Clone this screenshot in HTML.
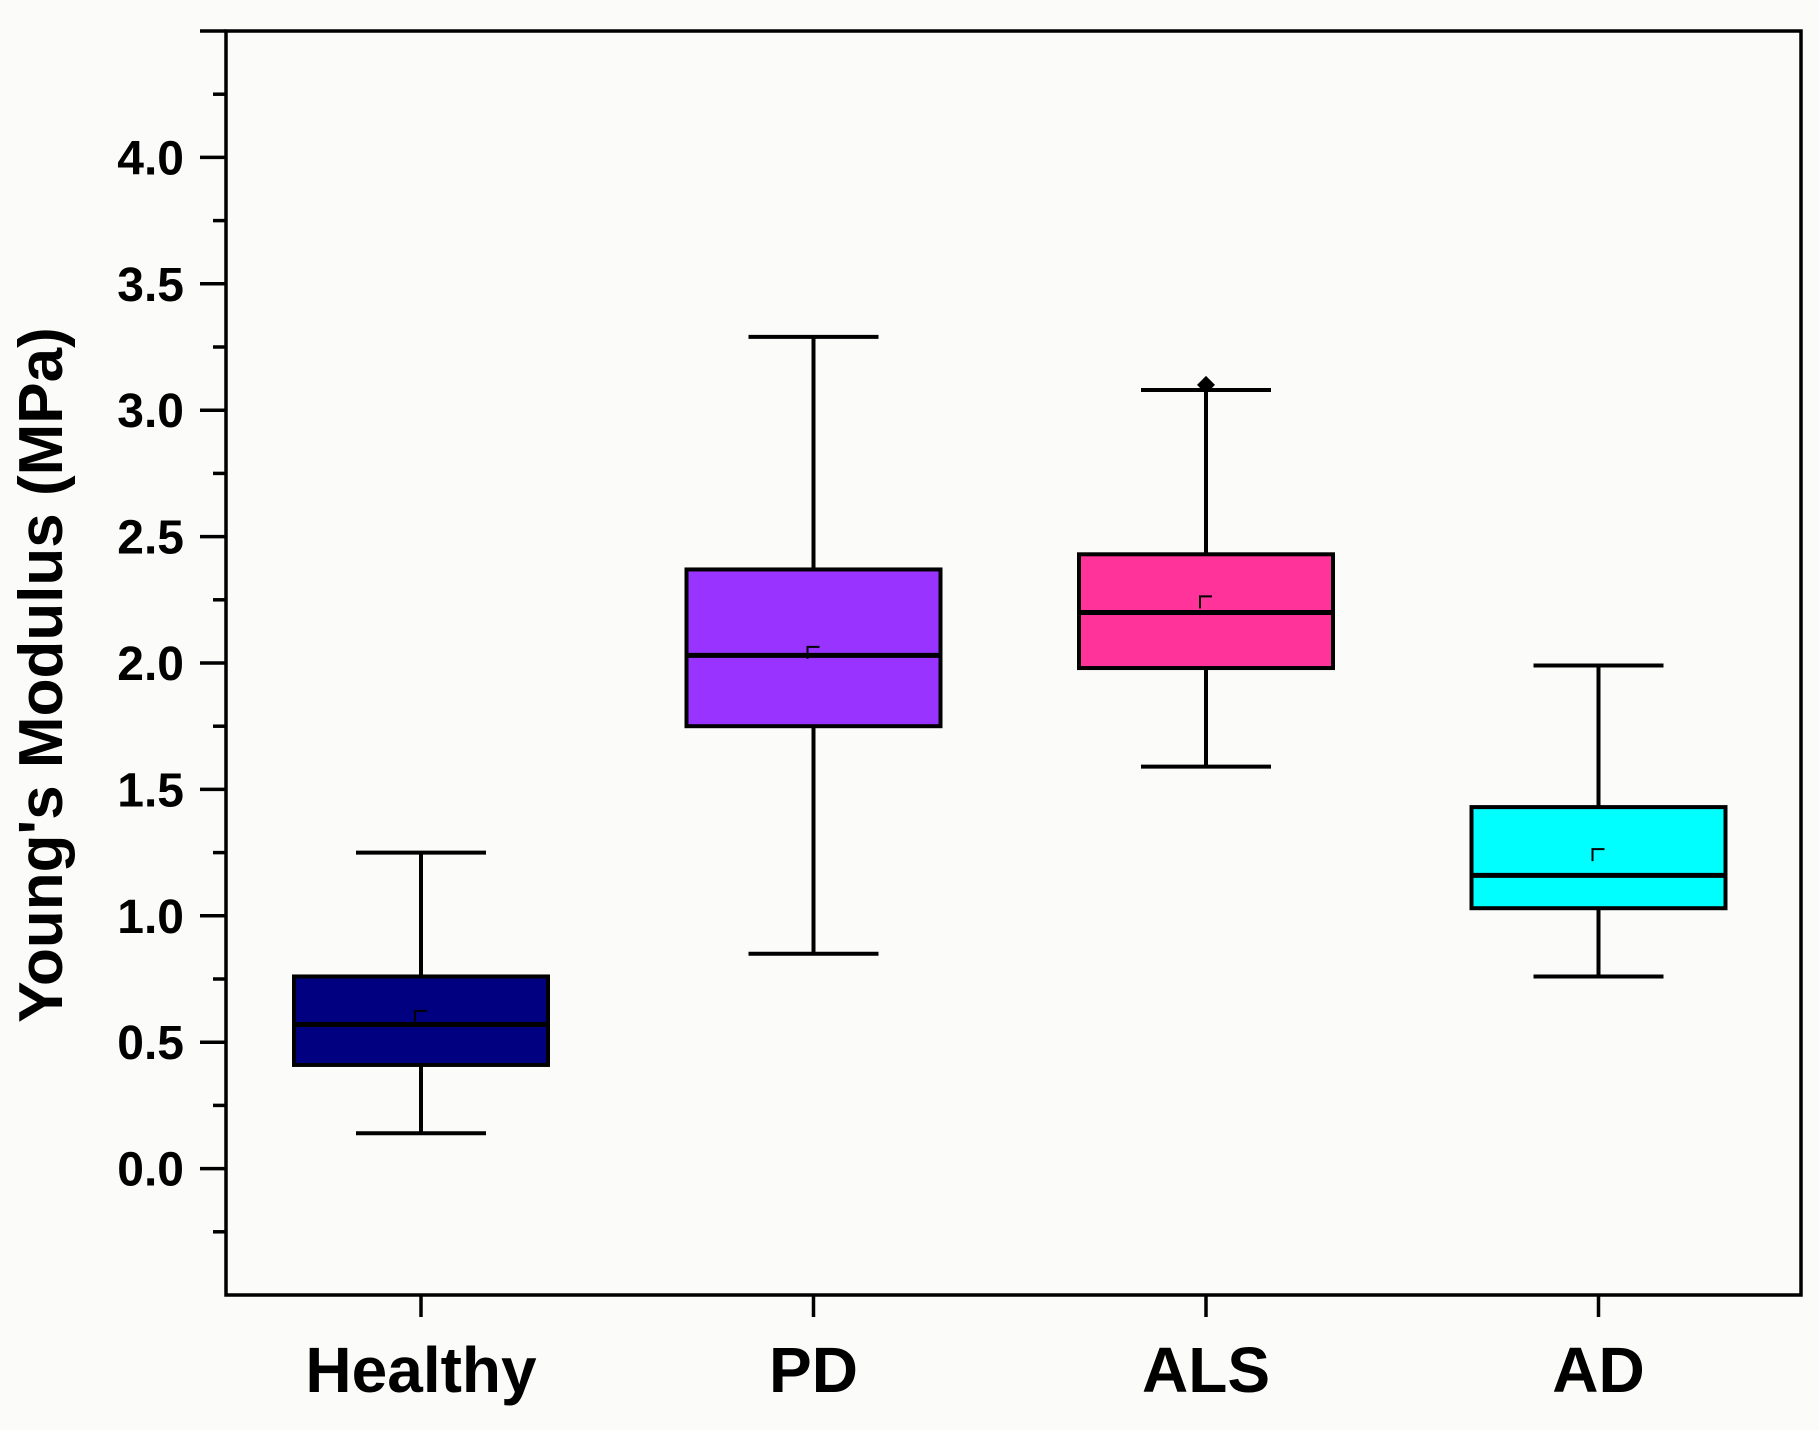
<!DOCTYPE html>
<html><head><meta charset="utf-8"><style>
html,body{margin:0;padding:0;background:#fbfbf9;}
svg{display:block;font-family:"Liberation Sans",Arial,sans-serif;}
</style></head>
<body>
<svg id="chart" width="1819" height="1430" viewBox="0 0 1819 1430" xmlns="http://www.w3.org/2000/svg">
<rect x="0" y="0" width="1819" height="1430" fill="#fbfbf9"/>
<g id="plot"></g>
<text transform="translate(62,675) rotate(-90)" text-anchor="middle" font-weight="bold" font-size="62" fill="#000">Young's Modulus (MPa)</text>
</svg>
<script>
const categories = ["Healthy", "PD", "ALS", "AD"];
const whiskerLow = [0.14, 0.85, 1.59, 0.76];
const q1 = [0.41, 1.75, 1.98, 1.03];
const medians = [0.57, 2.03, 2.20, 1.16];
const means = [0.60, 2.04, 2.24, 1.24];
const q3 = [0.76, 2.37, 2.43, 1.43];
const whiskerHigh = [1.25, 3.29, 3.08, 1.99];
const outliers = [null, null, 3.10, null];
const colors = ["#000080", "#9933ff", "#ff3399", "#00ffff"];
const yTicks = ["0.0", "0.5", "1.0", "1.5", "2.0", "2.5", "3.0", "3.5", "4.0"];

const NS = "http://www.w3.org/2000/svg";
const L = 226, R = 1801, T = 31, B = 1295;
const yMin = -0.5, yMax = 4.5;
function yS(v){ return B - (v - yMin) / (yMax - yMin) * (B - T); }
function xS(i){ return 421 + i * 392.5; }
const g = document.getElementById("plot");
function mk(tag, attrs, parent){
  const e = document.createElementNS(NS, tag);
  for (const k in attrs) e.setAttribute(k, attrs[k]);
  (parent || g).appendChild(e);
  return e;
}
const frame = mk("rect", {x:L, y:T, width:R-L, height:B-T, fill:"none", stroke:"#000", "stroke-width":3.5});


for (let v = -0.25; v <= 4.5; v += 0.25) {
  const major = Math.abs(v*2 - Math.round(v*2)) < 1e-6;
  const t = mk("line", {x1:L - (major ? 26 : 13), x2:L, y1:yS(v), y2:yS(v), stroke:"#000", "stroke-width":3.5});
  
  
}
yTicks.forEach(s => {
  const t = mk("text", {x:L - 42, y:yS(parseFloat(s)) + 17, "text-anchor":"end", "font-size":48, "font-weight":"bold", fill:"#000"});
  t.textContent = s;
  
  
});
categories.forEach((c, i) => {
  const x = xS(i);
  const tk = mk("line", {x1:x, x2:x, y1:B, y2:B+22, stroke:"#000", "stroke-width":3.5});
  
  
  const lb = mk("text", {x:x, y:1392, "text-anchor":"middle", "font-size":64, "font-weight":"bold", fill:"#000"});
  lb.textContent = c;
  
  

  const grp = mk("g", {});
  
  
  const hw = 127, cw = 65;
  mk("line", {x1:x, x2:x, y1:yS(whiskerHigh[i]), y2:yS(q3[i]), stroke:"#000", "stroke-width":4}, grp);
  mk("line", {x1:x, x2:x, y1:yS(q1[i]), y2:yS(whiskerLow[i]), stroke:"#000", "stroke-width":4}, grp);
  mk("line", {x1:x-cw, x2:x+cw, y1:yS(whiskerHigh[i]), y2:yS(whiskerHigh[i]), stroke:"#000", "stroke-width":4}, grp);
  mk("line", {x1:x-cw, x2:x+cw, y1:yS(whiskerLow[i]), y2:yS(whiskerLow[i]), stroke:"#000", "stroke-width":4}, grp);
  mk("rect", {x:x-hw, y:yS(q3[i]), width:2*hw, height:yS(q1[i])-yS(q3[i]), fill:colors[i], stroke:"#000", "stroke-width":4}, grp);
  mk("line", {x1:x-hw, x2:x+hw, y1:yS(medians[i]), y2:yS(medians[i]), stroke:"#000", "stroke-width":5}, grp);
  mk("path", {d:`M${x-6} ${yS(means[i])+6} V${yS(means[i])-6} H${x+6}`, fill:"none", stroke:"#000", "stroke-width":2}, grp);
  if (outliers[i] !== null) {
    const oy = yS(outliers[i]);
    mk("path", {d:`M${x} ${oy-9} L${x+9} ${oy} L${x} ${oy+9} L${x-9} ${oy} Z`, fill:"#000"}, grp);
  }
});
</script>
</body></html>
